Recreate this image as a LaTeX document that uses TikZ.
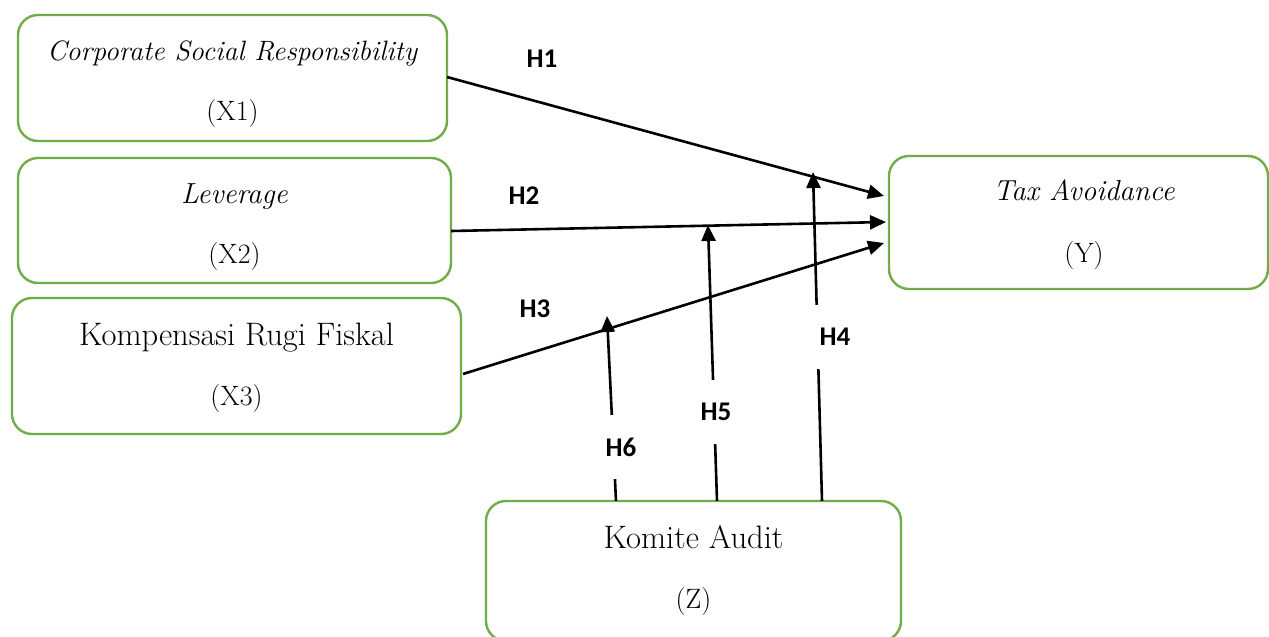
\documentclass[tikz,border=0pt]{standalone}
\usepackage{fontspec}
\newfontfamily\hfont{Carlito}
\usetikzlibrary{arrows.meta}
\definecolor{boxgreen}{HTML}{70AD47}
\begin{document}
\begin{tikzpicture}[x=1pt,y=-1pt,
  var/.style={draw=boxgreen, line width=2.4pt, rounded corners=20pt, inner sep=0pt},
  txt/.style={anchor=base, inner sep=0pt, font=\fontsize{29}{34}\selectfont},
  big/.style={txt, font=\fontsize{32.5}{38}\selectfont},
  par/.style={txt, font=\fontsize{28}{34}\selectfont},
  arr/.style={line width=2.6pt, -{Triangle[length=16pt,width=14pt]}},
  hyp/.style={font=\hfont\bfseries\fontsize{27}{32}\selectfont, inner sep=0pt},
  hypw/.style={hyp, fill=white, minimum width=40pt, minimum height=64pt}]
\useasboundingbox (0,0) rectangle (1269,637);
\clip (0,0) rectangle (1269,637);
% variable boxes
\node[var, minimum width=429pt, minimum height=126pt] (X1) at (232.5,78) {};
\node[var, minimum width=433pt, minimum height=125pt] (X2) at (234.5,220.5) {};
\node[var, minimum width=449pt, minimum height=136pt] (X3) at (236.5,366) {};
\node[var, minimum width=379pt, minimum height=133pt] (Y) at (1078.5,222.5) {};
\node[var, minimum width=415pt, minimum height=140pt] (Z) at (693.5,571) {};
% box texts
\node[txt, font=\fontsize{28}{34}\selectfont] (X1a) at (232.5,60) {\textit{Corporate Social Responsibility}};
\node[par] (X1b) at (232.5,120) {(X1)};
\node[txt] (X2a) at (234.5,203) {\textit{Leverage}};
\node[par] (X2b) at (234.5,263) {(X2)};
\node[big] (X3a) at (236.5,345) {Kompensasi Rugi Fiskal};
\node[par] (X3b) at (236.5,405) {(X3)};
\node[txt] (Ya) at (1084,200) {\textit{Tax Avoidance}};
\node[par] (Yb) at (1084,262) {(Y)};
\node[big] (Za) at (693.5,548) {Komite Audit};
\node[par] (Zb) at (693.5,608) {(Z)};
% connector end points
\coordinate (s1) at (447,77);
\coordinate (s2) at (451,231);
\coordinate (s3) at (463,374);
\coordinate (t1) at (884,196);
\coordinate (t2) at (886,222);
\coordinate (t3) at (884,243);
\coordinate (z4) at (822,501);
\coordinate (z5) at (717,501);
\coordinate (z6) at (616,501);
\coordinate (t4) at (813,172);
\coordinate (t5) at (708,225);
\coordinate (t6) at (607,316);
% arrows
\draw[arr] (s1) -- (t1);
\draw[arr] (s2) -- (t2);
\draw[arr] (s3) -- (t3);
\draw[arr] (z4) -- (t4);
\draw[arr] (z5) -- (t5);
\draw[arr] (z6) -- (t6);
% labels
\node[hyp] (H1) at (542,59) {H1};
\node[hyp] (H2) at (524,196) {H2};
\node[hyp] (H3) at (535,309) {H3};
\node[hypw] (H4) at (835,337) {H4};
\node[hypw] (H5) at (716,412) {H5};
\node[hypw] (H6) at (621,447) {H6};
\end{tikzpicture}
\end{document}
